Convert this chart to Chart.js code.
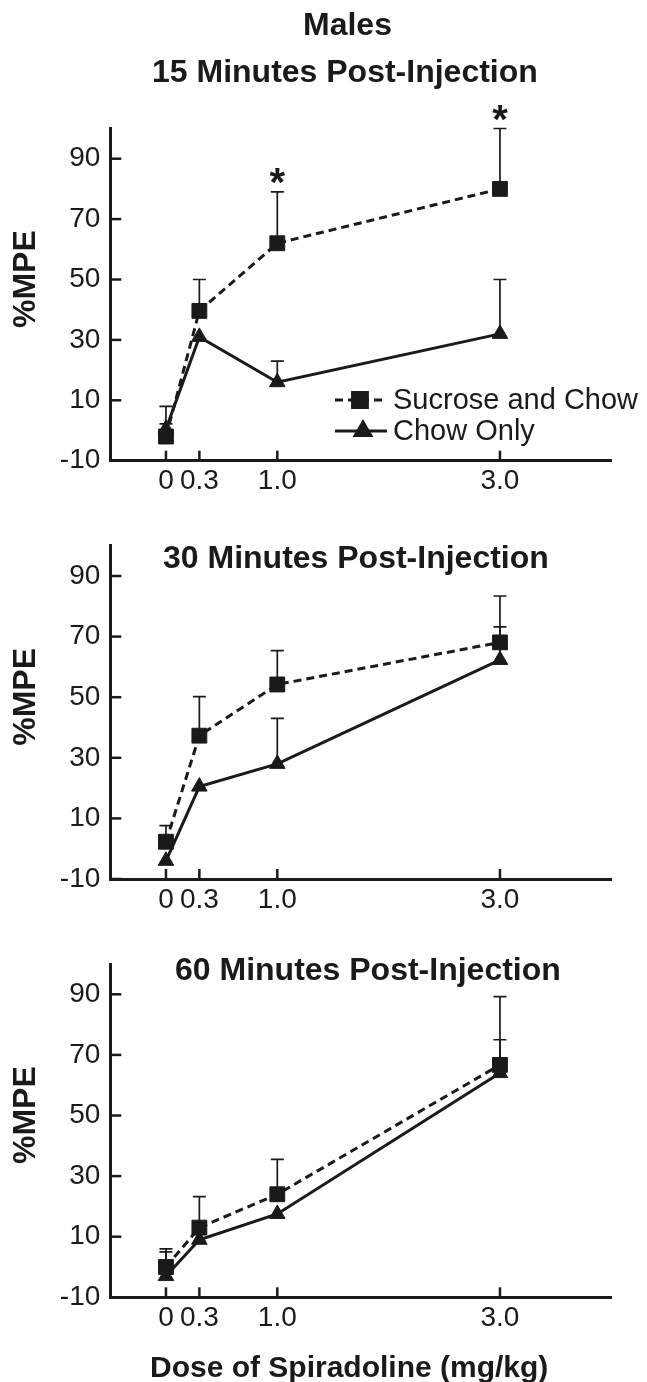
<!DOCTYPE html>
<html>
<head>
<meta charset="utf-8">
<script src="https://cdn.jsdelivr.net/npm/chart.js@4.4.1/dist/chart.umd.min.js"></script>
<style>
html,body{margin:0;padding:0;background:#fff;}
#wrap{position:relative;width:647px;height:1382px;overflow:hidden;}
.panel{position:absolute;left:0;width:647px;}
canvas{display:block;}
</style>
</head>
<body>
<div id="wrap">
  <div class="panel" style="top:0;height:500px"><canvas id="c1" width="647" height="500"></canvas></div>
  <div class="panel" style="top:500px;height:430px"><canvas id="c2" width="647" height="430"></canvas></div>
  <div class="panel" style="top:930px;height:452px"><canvas id="c3" width="647" height="452"></canvas></div>
</div>
<script>
// ---------------- DATA ----------------
const doses = [0, 0.3, 1.0, 3.0];
const xTickLabels = ['0', '0.3', '1.0', '3.0'];
const yTickValues = [-10, 10, 30, 50, 70, 90];
const seriesNames = ['Sucrose and Chow', 'Chow Only'];
const figureTitle = 'Males';
const panelTitles = ['15 Minutes Post-Injection', '30 Minutes Post-Injection', '60 Minutes Post-Injection'];
const yAxisTitle = '%MPE';
const xAxisTitle = 'Dose of Spiradoline (mg/kg)';

const sucrose15 = [-2, 39.6, 62, 80];
const sucrose15Err = [10, 10.4, 17, 20];
const chow15 = [0.5, 31, 16, 32];
const chow15Err = [1.7, 0, 7, 18];
const sig15 = [false, false, true, true];

const sucrose30 = [2.3, 37.3, 54.2, 68.1];
const sucrose30Err = [5.3, 12.9, 11.2, 15.3];
const chow30 = [-4, 20.5, 28, 62.3];
const chow30Err = [0, 0, 15, 10.9];

const sucrose60 = [0, 13, 24, 66.7];
const sucrose60Err = [6, 10.2, 11.5, 22.5];
const chow60 = [-3, 9, 17.5, 64];
const chow60Err = [8, 0, 0, 11];

// ---------------- STYLE ----------------
const INK = '#1a1a1a';
const FONT = '"Liberation Sans", Arial, Helvetica, sans-serif';

const sucroseStyle = {
  borderColor: INK, backgroundColor: INK, borderWidth: 3, borderDash: [8, 5],
  pointStyle: 'rect', pointRadius: 10.5, pointBorderWidth: 1,
  pointBackgroundColor: INK, pointBorderColor: INK, tension: 0
};
const chowStyle = {
  borderColor: INK, backgroundColor: INK, borderWidth: 3, borderDash: [],
  pointStyle: 'triangle', pointRadius: 9, pointBorderWidth: 1,
  pointBackgroundColor: INK, pointBorderColor: INK, tension: 0
};

function pts(vals) { return doses.map((d, i) => ({ x: d, y: vals[i] })); }

function drawMarker(ctx, style, x, y) {
  if (Chart.helpers && Chart.helpers.drawPoint) {
    Chart.helpers.drawPoint(ctx, { pointStyle: style.pointStyle, radius: style.pointRadius, borderWidth: style.pointBorderWidth, rotation: 0 }, x, y);
  }
}

const decor = {
  id: 'decor',
  beforeDatasetsDraw(chart) {
    const xs = chart.scales.x, ys = chart.scales.y, ctx = chart.ctx;
    ctx.save();
    ctx.strokeStyle = INK; ctx.lineWidth = 1.7; ctx.setLineDash([]);
    chart.data.datasets.forEach(ds => {
      const err = ds.errorBars; if (!err) return;
      ds.data.forEach((p, j) => {
        if (!err[j]) return;
        const x = xs.getPixelForValue(p.x);
        const y0 = ys.getPixelForValue(p.y);
        const y1 = ys.getPixelForValue(p.y + err[j]);
        ctx.beginPath();
        ctx.moveTo(x, y0); ctx.lineTo(x, y1);
        ctx.moveTo(x - 6.5, y1); ctx.lineTo(x + 6.5, y1);
        ctx.stroke();
      });
    });
    ctx.restore();
  },
  afterDraw(chart, args, opts) {
    const xs = chart.scales.x, ys = chart.scales.y, ctx = chart.ctx, ca = chart.chartArea;
    ctx.save();
    ctx.setLineDash([]);
    ctx.strokeStyle = INK; ctx.fillStyle = INK;
    // inward tick marks
    ctx.lineWidth = 2.5;
    xs.ticks.forEach(t => {
      const x = xs.getPixelForValue(t.value);
      ctx.beginPath(); ctx.moveTo(x, ca.bottom); ctx.lineTo(x, ca.bottom - 10); ctx.stroke();
    });
    ys.ticks.forEach(t => {
      const y = ys.getPixelForValue(t.value);
      ctx.beginPath(); ctx.moveTo(ca.left, y); ctx.lineTo(ca.left + 11, y); ctx.stroke();
    });
    // significance stars
    chart.data.datasets.forEach(ds => {
      if (!ds.significance) return;
      ds.data.forEach((p, j) => {
        if (!ds.significance[j]) return;
        const x = xs.getPixelForValue(p.x);
        const top = ys.getPixelForValue(p.y + (ds.errorBars ? ds.errorBars[j] : 0));
        ctx.font = 'bold 40px ' + FONT;
        ctx.textAlign = 'center'; ctx.textBaseline = 'alphabetic';
        ctx.fillText('*', x, top + 4);
      });
    });
    // titles
    (opts.titles || []).forEach(t => {
      ctx.font = 'bold 32px ' + FONT;
      ctx.textAlign = 'left'; ctx.textBaseline = 'alphabetic';
      ctx.fillText(t.text, t.x, t.y);
    });
    // y title
    ctx.save();
    ctx.translate(26.5, (ca.top + ca.bottom) / 2 - 15.5);
    ctx.rotate(-Math.PI / 2);
    ctx.font = 'bold 32px ' + FONT;
    ctx.textAlign = 'center'; ctx.textBaseline = 'middle';
    ctx.fillText(yAxisTitle, 0, 0);
    ctx.restore();
    // x title
    if (opts.xTitle) {
      ctx.font = 'bold 30px ' + FONT;
      ctx.textAlign = 'left'; ctx.textBaseline = 'alphabetic';
      ctx.fillText(opts.xTitle.text, opts.xTitle.x, opts.xTitle.y);
    }
    // legend
    if (opts.legend) {
      const L = opts.legend;
      chart.data.datasets.forEach((ds, i) => {
        const y = L.rows[i];
        ctx.strokeStyle = INK; ctx.fillStyle = INK;
        ctx.lineWidth = ds.borderWidth;
        ctx.setLineDash(ds.borderDash || []);
        ctx.beginPath(); ctx.moveTo(L.x0, y); ctx.lineTo(L.x1, y); ctx.stroke();
        ctx.setLineDash([]);
        drawMarker(ctx, ds, L.markerX[i], y);
        ctx.fillStyle = INK;
        ctx.font = '29px ' + FONT;
        ctx.textAlign = 'left'; ctx.textBaseline = 'middle';
        ctx.fillText(ds.label, L.textX, y + 1);
      });
    }
    ctx.restore();
  }
};

function makePanel(id, sucVals, sucErr, chowVals, chowErr, sig, layout, decorOpts) {
  const sucDs = Object.assign({ label: seriesNames[0], data: pts(sucVals), errorBars: sucErr, significance: sig }, sucroseStyle);
  const chowDs = Object.assign({ label: seriesNames[1], data: pts(chowVals), errorBars: chowErr }, chowStyle);
  return new Chart(document.getElementById(id), {
    type: 'line',
    data: { datasets: [sucDs, chowDs] },
    plugins: [decor],
    options: {
      responsive: false, animation: false, events: [],
      layout: { padding: { top: layout.top, right: 35.7, bottom: 0, left: 0 } },
      plugins: { legend: { display: false }, tooltip: { enabled: false }, title: { display: false }, decor: decorOpts },
      scales: {
        x: {
          type: 'linear', min: -0.5, max: 4,
          afterFit: s => { s.height = layout.xh; },
          afterBuildTicks: s => { s.ticks = doses.map(v => ({ value: v })); },
          grid: { display: true, drawOnChartArea: false, drawTicks: false },
          border: { display: true, color: INK, width: 3 },
          ticks: {
            autoSkip: false, maxRotation: 0, padding: 4, color: INK,
            font: { family: FONT, size: 28 },
            callback: (v) => { const i = doses.indexOf(v); return i >= 0 ? xTickLabels[i] : ''; }
          }
        },
        y: {
          type: 'linear', min: -10, max: 100,
          afterFit: s => { s.width = 110.3; },
          afterBuildTicks: s => { s.ticks = yTickValues.map(v => ({ value: v })); },
          grid: { display: true, drawOnChartArea: false, drawTicks: false },
          border: { display: true, color: INK, width: 3 },
          ticks: { padding: 10, color: INK, font: { family: FONT, size: 28 } }
        }
      }
    }
  });
}

makePanel('c1', sucrose15, sucrose15Err, chow15, chow15Err, sig15, { top: 128.5, xh: 39.3 }, {
  titles: [{ text: figureTitle, x: 303, y: 35 }, { text: panelTitles[0], x: 152, y: 82 }],
  legend: { x0: 335, x1: 387, markerX: [360, 363], textX: 393, rows: [400, 431] }
});
makePanel('c2', sucrose30, sucrose30Err, chow30, chow30Err, null, { top: 45.7, xh: 51 }, {
  titles: [{ text: panelTitles[1], x: 163, y: 68 }]
});
makePanel('c3', sucrose60, sucrose60Err, chow60, chow60Err, null, { top: 34, xh: 84.7 }, {
  titles: [{ text: panelTitles[2], x: 175, y: 50 }],
  xTitle: { text: xAxisTitle, x: 150, y: 447 }
});
</script>
</body>
</html>
